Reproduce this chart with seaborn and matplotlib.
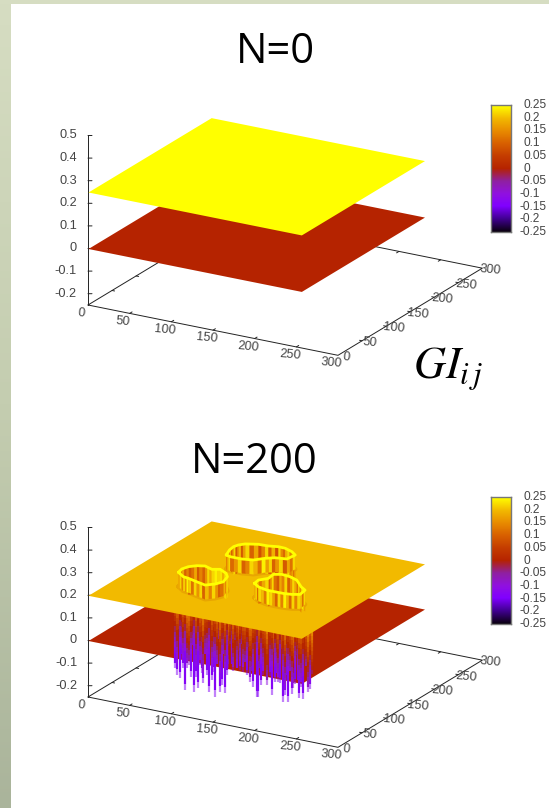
import numpy as np
import matplotlib
matplotlib.use("Agg")
import matplotlib.pyplot as plt
import seaborn as sns
from mpl_toolkits.mplot3d import proj3d
from mpl_toolkits.mplot3d.art3d import Poly3DCollection, Line3DCollection

# ---------- data ----------
titles = ["N=0", "N=200"]
axis_ticks = [0, 50, 100, 150, 200, 250, 300]
z_ticks = [-0.2, -0.1, 0, 0.1, 0.2, 0.3, 0.4, 0.5]
z_labels = ["-0.2", "-0.1", "0", "0.1", "0.2", "0.3", "0.4", "0.5"]
cbar_ticks = [0.25, 0.2, 0.15, 0.1, 0.05, 0, -0.05, -0.1, -0.15, -0.2, -0.25]
cbar_labels = ["0.25", "0.2", "0.15", "0.1", "0.05", "0", "-0.05", "-0.1", "-0.15", "-0.2", "-0.25"]

grid_edges = [0, 256]
lower_level = 0.0
upper_level_n0 = 0.25
upper_level_n200 = 0.2
rim_level = 0.263

ring1_x = [68.3, 66.4, 68.9, 75.0, 83.0, 93.9, 101.4, 112.8, 119.0, 122.9, 118.8, 111.3, 98.9, 86.2, 79.3]
ring1_y = [69.6, 79.9, 89.3, 96.2, 99.7, 94.7, 99.0, 91.7, 83.6, 68.5, 58.3, 50.5, 54.7, 59.3, 60.8]
ring1_base = [0.19, 0.16, 0.14, 0.14, 0.14, 0.14, 0.15, 0.17, 0.2, 0.2, 0.2, 0.2, 0.2, 0.2, 0.2]
ring1_tone = [0.18, 0.22, 0.14, 0.18, 0.1, 0.14, 0.09, 0.12, 0.18, 0.09, 0.14, 0.1, 0.16, 0.22, 0.18,
              0.22, 0.24, 0.22, 0.23, 0.19, 0.22, 0.16, 0.2, 0.22, 0.22, 0.15, 0.19, 0.12, 0.1, 0.16,
              0.22, 0.14, 0.2, 0.1, 0.22, 0.16, 0.22, 0.12, 0.21, 0.24, 0.16, 0.22, 0.14, 0.22, 0.18]

ring2_x = [85.5, 81.0, 79.7, 81.6, 86.1, 98.6, 110.1, 120.3, 128.7, 139.7, 147.7, 146.1, 133.7, 125.6, 117.5, 105.6, 91.6]
ring2_y = [139.1, 153.8, 164.4, 171.4, 177.5, 183.5, 184.3, 187.7, 187.1, 181.8, 174.9, 160.3, 157.5, 150.8, 140.4, 136.9, 136.8]
ring2_base = [0.19, 0.16, 0.14, 0.14, 0.14, 0.14, 0.14, 0.14, 0.14, 0.16, 0.2, 0.2, 0.2, 0.2, 0.2, 0.2, 0.2]
ring2_tone = [0.16, 0.22, 0.12, 0.19, 0.1, 0.16, 0.22, 0.08, 0.14, 0.2, 0.09, 0.17, 0.22, 0.1, 0.18,
              0.08, 0.14, 0.22, 0.1, 0.19, 0.08, 0.22, 0.15, 0.11, 0.19, 0.22, 0.14, 0.18, 0.12, 0.16,
              0.22, 0.12, 0.18, 0.09, 0.22, 0.16, 0.1, 0.22, 0.17, 0.24, 0.12, 0.19, 0.22, 0.14, 0.1,
              0.22, 0.16, 0.11, 0.22, 0.19, 0.14]

ring3_x = [153.2, 151.9, 158.3, 156.9, 164.5, 175.5, 186.5, 200.4, 208.9, 210.8, 203.3, 194.3, 184.4, 174.4, 161.9]
ring3_y = [80.5, 91.0, 100.7, 113.6, 118.0, 116.1, 110.9, 95.9, 89.3, 75.7, 71.4, 69.6, 69.4, 69.5, 73.7]
ring3_base = [0.19, 0.16, 0.14, 0.14, 0.14, 0.14, 0.15, 0.17, 0.2, 0.2, 0.2, 0.2, 0.2, 0.2, 0.2]
ring3_tone = [0.22, 0.16, 0.2, 0.12, 0.18, 0.22, 0.1, 0.16, 0.22, 0.12, 0.09, 0.18, 0.14, 0.22, 0.1,
              0.16, 0.22, 0.18, 0.12, 0.22, 0.15, 0.22, 0.24, 0.17, 0.22, 0.12, 0.2, 0.22, 0.14, 0.22,
              0.11, 0.19, 0.24, 0.14, 0.22, 0.1, 0.17, 0.22, 0.24, 0.13, 0.2, 0.22, 0.11, 0.22, 0.17]

spike_y = 60
spike_x = [69.8, 71.9, 75.8, 79.1, 81.8, 84.6, 88.7, 92.6, 95.0, 97.8, 101.9, 103.8, 107.9, 111.0, 113.9,
           117.8, 123.8, 126.6, 129.8, 131.9, 151.8, 155.9, 159.8, 163.8, 167.9, 169.8, 172.7, 175.8,
           180.6, 185.9, 189.8, 193.8, 199.1, 201.8, 205.8, 209.9, 213.8, 219.0, 223.8, 229.8, 231.8,
           70.8, 73.8, 77.4, 83.2, 86.6, 90.6, 93.8, 99.9, 105.9, 109.4, 115.8, 119.8, 121.8, 125.2,
           128.2, 133.8, 135.8, 137.8, 139.8, 141.8, 143.8, 145.8, 147.8, 149.8, 153.8, 157.8, 161.8,
           165.8, 171.2, 174.2, 177.8, 183.2, 187.8, 191.8, 195.8, 197.4, 203.8, 207.8, 211.8, 215.8,
           217.4, 221.4, 226.8, 233.8]
spike_z = [-0.149, -0.177, -0.188, -0.142, -0.236, -0.138, -0.172, -0.235, -0.167, -0.216, -0.147, -0.19,
           -0.15, -0.222, -0.168, -0.239, -0.212, -0.18, -0.215, -0.133, -0.103, -0.115, -0.142, -0.161,
           -0.202, -0.2, -0.147, -0.1, -0.141, -0.181, -0.119, -0.117, -0.201, -0.169, -0.196, -0.156,
           -0.109, -0.171, -0.168, -0.134, -0.118,
           -0.08, 0.03, -0.1, 0.01, -0.12, -0.03, 0.02, -0.11, -0.06, 0.04, -0.13, -0.09, 0.02, -0.12,
           -0.04, -0.1, 0.01, -0.08, -0.11, 0.03, -0.09, -0.05, -0.1, 0.02, -0.06, 0.01, -0.09,
           0.03, -0.07, -0.03, 0.02, -0.1, 0.01, -0.08, -0.12, 0.03, -0.1, -0.06, -0.13, 0.02,
           -0.09, -0.12, -0.02, -0.05]
# how much sooner each spike's colour turns violet, by picture estimate
spike_shift = [0.05, 0.0, 0.08, 0.02, 0.06, -0.02, 0.04, 0.09, 0.0, 0.07, 0.03, -0.03, 0.05, 0.08, 0.01, 0.04, -0.02]
deepest_tone = -0.135

# ---------- style ----------
sns.set_theme(style="white")
plt.rcParams["font.family"] = ["Liberation Sans", "DejaVu Sans"]
plt.rcParams["mathtext.fontset"] = "stix"

W, H = 549, 808
fig = plt.figure(figsize=(W / 100, H / 100), dpi=100, facecolor="white")

palette = sns.blend_palette(
    ["#0A0010", "#400090", "#8000FF", "#9010E0", "#8F20A0", "#B52200",
     "#C43C00", "#D86000", "#E88A00", "#F2B900", "#FFFF00"], n_colors=256, as_cmap=True)


def to_rgba(v):
    return np.array(palette(np.clip((float(v) + 0.25) / 0.5, 0, 1)))


TEXT = "#444444"

# ---------- slide background ----------
band_cmap = sns.blend_palette(["#D6DDC2", "#C4CDB0", "#AAB49B"], n_colors=256, as_cmap=True)
band = fig.add_axes([0, 0, 10 / W, 1])
band.imshow(np.linspace(0, 1, 256)[:, None], aspect="auto", cmap=band_cmap)
band.set_axis_off()
top = fig.add_axes([0, 1 - 4 / H, 1, 4 / H], facecolor="#D6DDC2")
top.set_xticks([]); top.set_yticks([]); sns.despine(ax=top, left=True, bottom=True)


def project(ax, x, y, z):
    xs, ys, _ = proj3d.proj_transform(x, y, z, ax.get_proj())
    return xs, ys


def make_panel(y_shift):
    ax = fig.add_axes([0.1, 0.1, 0.8, 0.8 * W / H], projection="3d", computed_zorder=False)
    ax.set_proj_type("ortho")
    ax.view_init(elev=20.4, azim=-60)
    ax.set_xlim(0, 300); ax.set_ylim(0, 300); ax.set_zlim(-0.25, 0.5)
    ax.set_box_aspect((288.6, 288.6, 180.8))
    ax.set_axis_off()
    ax.patch.set_alpha(0)
    ax.apply_aspect()
    # place the axes so the floor corners land where the reference has them
    inv = ax.transAxes.inverted()
    p0 = inv.transform(ax.transData.transform(project(ax, 0, 0, -0.25)))
    p1 = inv.transform(ax.transData.transform(project(ax, 300, 0, -0.25)))
    S = 250 / (p1[0] - p0[0])
    L = 88 - S * p0[0]
    B = H - (305 + y_shift) - S * p0[1]
    ax.set_position([L / W, B / H, S / W, S / H])
    ax.apply_aspect()

    # box edges
    k = dict(color="#222222", lw=0.7, zorder=1)
    ax.plot([0, 300, 300, 0, 0], [0, 0, 300, 300, 0], [-0.25] * 5, **k)
    ax.plot([0, 0], [0, 0], [-0.25, 0.5], **k)
    for t in axis_ticks[1:-1]:
        ax.plot([t, t], [0, 5], [-0.25, -0.25], **k)
        ax.plot([t, t], [300, 295], [-0.25, -0.25], **k)
        ax.plot([0, 3], [t, t], [-0.25, -0.25], **k)
        ax.plot([300, 297], [t, t], [-0.25, -0.25], **k)
    for z in z_ticks:
        ax.plot([0, 3.6], [0, 2.07], [z, z], **k)

    a = dict(xycoords="data", textcoords="offset pixels", annotation_clip=False,
             color=TEXT, fontsize=9.2)
    for t in axis_ticks:
        ax.annotate(str(t), xy=project(ax, t, 0, -0.25), xytext=(-6.5, -8),
                    ha="center", va="center", rotation=-5, **a)
        ax.annotate(str(t), xy=project(ax, 300, t, -0.25), xytext=(8, -2),
                    ha="center", va="center", rotation=-5, **a)
    for z, s in zip(z_ticks, z_labels):
        ax.annotate(s, xy=project(ax, 0, 0, z), xytext=(-11, 0), ha="right", va="center", **a)
    return ax


def plane(ax, level, zorder):
    X, Y = np.meshgrid(grid_edges, grid_edges)
    ax.plot_surface(X, Y, np.full(X.shape, level), color=to_rgba(level), shade=False,
                    linewidth=0, antialiased=False, zorder=zorder)


def colorbar(top_px):
    cax = fig.add_axes([491 / W, 1 - (top_px + 127) / H, 20 / W, 127 / H])
    n = 127
    levels = np.linspace(0.25, -0.25, n)[:, None]
    sns.heatmap(levels, ax=cax, cmap=palette, vmin=-0.25, vmax=0.25, cbar=False,
                xticklabels=False, yticklabels=False)
    for sp in cax.spines.values():
        sp.set_visible(True); sp.set_color("#777777"); sp.set_linewidth(1)
    pos = [(0.25 - v) / 0.5 * n for v in cbar_ticks]
    cax.set_yticks(pos[1:-1])
    cax.set_yticklabels([])
    cax.tick_params(axis="y", direction="in", left=True, right=True, length=3, width=0.6, color="#222222")
    for p, s in zip(pos, cbar_labels):
        dx = 8.5 if s.startswith("-") else 12.8
        cax.annotate(s, xy=(1, p), xycoords=("axes fraction", "data"), xytext=(dx, 0),
                     textcoords="offset pixels", ha="left", va="center", color=TEXT,
                     fontsize=8.6, annotation_clip=False)


# ---------- panel N=0 ----------
ax1 = make_panel(0)
plane(ax1, lower_level, 2)
plane(ax1, upper_level_n0, 3)
colorbar(105)

# ---------- panel N=200 ----------
ax2 = make_panel(392)
plane(ax2, lower_level, 2)

segs, cols = [], []
order = np.argsort(np.array(spike_z))[::-1]
for idx in order:
    x, bottom = spike_x[idx], spike_z[idx]
    shift = spike_shift[idx % len(spike_shift)]
    zs = np.linspace(upper_level_n200, bottom, 16)
    for i in range(15):
        segs.append([(x, spike_y, zs[i]), (x, spike_y, zs[i + 1])])
        c = to_rgba(max(0.5 * (zs[i] + zs[i + 1]) - shift, deepest_tone))
        if i == 14 and bottom < -0.09:
            c[3] = 0.5
        cols.append(c)
ax2.add_collection3d(Line3DCollection(segs, colors=cols, linewidths=1.6, zorder=3), autolim=False)

plane(ax2, upper_level_n200, 4)

rings = [(ring1_x, ring1_y, ring1_base, ring1_tone),
         (ring2_x, ring2_y, ring2_base, ring2_tone),
         (ring3_x, ring3_y, ring3_base, ring3_tone)]
for rx, ry, base, tone in rings:
    cx, cy = list(rx) + [rx[0]], list(ry) + [ry[0]]
    ax2.plot(cx, cy, [upper_level_n200] * len(cx), color="#C86000", alpha=0.22, lw=3.2, zorder=5)
    verts, faces = [], []
    for i in range(len(rx)):
        sx = np.linspace(cx[i], cx[i + 1], 4)
        sy = np.linspace(cy[i], cy[i + 1], 4)
        for j in range(3):
            verts.append([(sx[j], sy[j], rim_level), (sx[j + 1], sy[j + 1], rim_level),
                          (sx[j + 1], sy[j + 1], base[i]), (sx[j], sy[j], base[i])])
            faces.append(to_rgba(tone[3 * i + j]))
    poly = Poly3DCollection(verts, facecolors=faces, edgecolors=faces, linewidths=0.2,
                            zsort="average", zorder=6)
    ax2.add_collection3d(poly, autolim=False)
    ax2.plot(cx, cy, [rim_level] * len(cx), color="#FFFF00", lw=2.0, zorder=7,
             solid_joinstyle="round")
colorbar(497)

# ---------- titles ----------
title_kw = dict(family=["Open Sans", "DejaVu Sans"], fontsize=30, color="black", ha="center", va="baseline")
fig.text(275.7 / W, 1 - 63 / H, titles[0], **title_kw)
fig.text(254 / W, 1 - 472.7 / H, titles[1], **title_kw)
fig.text(413 / W, 1 - 378 / H, r"$GI_{i\,j}$", fontsize=32, color="black", ha="left", va="baseline")

fig.savefig("out.png", dpi=100, facecolor="white")
